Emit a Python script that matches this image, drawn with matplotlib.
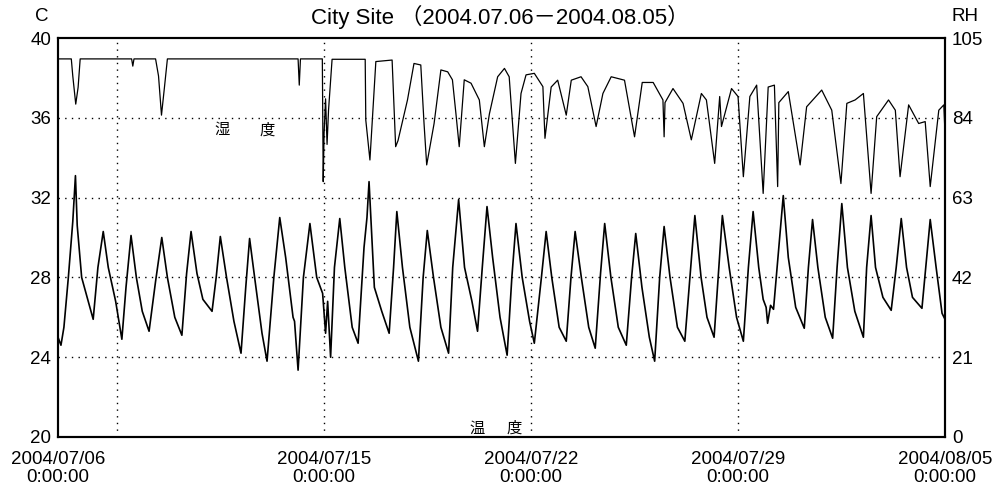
import pandas as pd
import matplotlib.pyplot as plt

# temperature (C): day offset from 2004/07/06 0:00, value
temp_days = [0.0, 0.1, 0.2, 0.35, 0.5, 0.59, 0.65, 0.8, 0.95, 1.19,
             1.35, 1.53, 1.7, 1.95, 2.16, 2.3, 2.47, 2.65, 2.85, 3.08,
             3.3, 3.51, 3.7, 3.95, 4.19, 4.35, 4.5, 4.7, 4.9, 5.21,
             5.35, 5.49, 5.7, 5.95, 6.19, 6.35, 6.48, 6.65, 6.9, 7.07,
             7.3, 7.5, 7.7, 7.95, 8.0, 8.12, 8.3, 8.52, 8.75, 8.95,
             9.05, 9.12, 9.22, 9.35, 9.53, 9.7, 9.95, 10.15, 10.35, 10.45,
             10.52, 10.58, 10.7, 10.95, 11.2, 11.35, 11.46, 11.65, 11.9, 12.19,
             12.35, 12.49, 12.7, 12.95, 13.21, 13.35, 13.55, 13.75, 14.0, 14.19,
             14.35, 14.51, 14.7, 14.95, 15.19, 15.35, 15.49, 15.7, 15.95, 16.11,
             16.35, 16.51, 16.7, 16.95, 17.19, 17.35, 17.49, 17.7, 17.95, 18.17,
             18.35, 18.49, 18.7, 18.95, 19.22, 19.4, 19.54, 19.75, 20.0, 20.18,
             20.35, 20.5, 20.7, 20.95, 21.2, 21.4, 21.54, 21.75, 21.95, 22.19,
             22.35, 22.47, 22.7, 22.95, 23.18, 23.35, 23.51, 23.7, 23.85, 23.95,
             24.0, 24.1, 24.2, 24.35, 24.53, 24.7, 24.95, 25.24, 25.38, 25.52,
             25.7, 25.95, 26.2, 26.35, 26.51, 26.7, 26.95, 27.24, 27.35, 27.5,
             27.65, 27.9, 28.18, 28.35, 28.52, 28.7, 28.9, 29.22, 29.35, 29.5,
             29.7, 29.9, 30.0]
temp_vals = [25.0, 24.6, 25.5, 28.0, 30.8, 33.1, 30.6, 28.0, 27.2, 25.9,
             28.5, 30.3, 28.5, 26.8, 24.9, 27.5, 30.1, 28.0, 26.3, 25.3,
             27.8, 30.0, 28.0, 26.0, 25.1, 28.2, 30.3, 28.2, 26.9, 26.3,
             28.0, 30.05, 28.0, 25.8, 24.2, 27.5, 29.95, 28.0, 25.2, 23.8,
             28.0, 31.0, 29.0, 26.0, 25.8, 23.35, 28.0, 30.7, 28.0, 27.2,
             25.2, 26.8, 24.0, 28.5, 30.95, 28.5, 25.5, 24.7, 29.5, 31.0,
             32.8, 31.0, 27.5, 26.3, 25.2, 28.5, 31.3, 28.5, 25.5, 23.8,
             28.0, 30.35, 28.0, 25.5, 24.2, 28.5, 31.9, 28.5, 26.8, 25.3,
             28.5, 31.55, 29.0, 26.0, 24.1, 28.0, 30.7, 28.0, 25.8, 24.7,
             28.0, 30.3, 28.0, 25.5, 24.8, 28.0, 30.3, 28.0, 25.5, 24.45,
             28.2, 30.7, 28.0, 25.5, 24.6, 28.0, 30.2, 27.5, 25.0, 23.8,
             28.0, 30.55, 28.0, 25.5, 24.8, 28.5, 31.1, 28.0, 26.0, 25.0,
             28.5, 31.1, 28.5, 26.0, 24.8, 28.5, 31.3, 28.5, 26.9, 26.5,
             25.7, 26.6, 26.4, 29.0, 32.1, 29.0, 26.5, 25.45, 28.5, 30.9,
             28.5, 26.0, 24.95, 28.5, 31.7, 28.5, 26.3, 25.0, 28.5, 31.1,
             28.5, 27.0, 26.35, 28.5, 30.95, 28.5, 27.0, 26.45, 28.5, 30.9,
             28.5, 26.2, 25.9]

# relative humidity (%)
rh_days = [0.0, 0.45, 0.5, 0.6, 0.68, 0.75, 2.49, 2.53, 2.57, 3.3,
           3.4, 3.5, 3.6, 3.7, 8.12, 8.16, 8.2, 8.94, 8.97, 9.0,
           9.05, 9.1, 9.15, 9.27, 10.39, 10.41, 10.55, 10.75, 11.3, 11.42,
           11.5, 11.82, 12.04, 12.27, 12.38, 12.47, 12.72, 12.95, 13.18, 13.34,
           13.46, 13.57, 13.74, 13.97, 14.25, 14.42, 14.59, 14.87, 15.1, 15.26,
           15.47, 15.66, 15.83, 16.11, 16.4, 16.47, 16.68, 16.9, 17.19, 17.36,
           17.69, 17.92, 18.2, 18.43, 18.71, 19.16, 19.5, 19.76, 20.13, 20.46,
           20.5, 20.53, 20.8, 21.14, 21.42, 21.76, 21.93, 22.21, 22.38, 22.44,
           22.78, 23.0, 23.18, 23.4, 23.63, 23.85, 24.02, 24.23, 24.34, 24.38,
           24.7, 25.1, 25.32, 25.83, 26.17, 26.48, 26.68, 26.96, 27.24, 27.5,
           27.69, 28.09, 28.32, 28.48, 28.77, 29.11, 29.33, 29.5, 29.79, 29.96,
           30.0]
rh_vals = [99.5, 99.5, 95.0, 87.6, 92.0, 99.5, 99.5, 97.6, 99.5, 99.5,
           95.0, 84.7, 92.0, 99.5, 99.5, 92.6, 99.5, 99.5, 67.2, 80.0,
           89.0, 77.0, 86.0, 99.4, 99.4, 83.4, 72.9, 98.8, 99.2, 76.4,
           78.0, 88.7, 98.3, 97.9, 82.5, 71.6, 82.5, 96.6, 96.1, 94.0,
           85.0, 76.4, 94.0, 93.1, 88.7, 76.4, 85.0, 94.8, 97.0, 94.8,
           72.0, 90.4, 95.3, 95.7, 92.2, 78.6, 92.1, 93.9, 84.7, 93.9,
           94.8, 92.2, 81.7, 90.4, 94.8, 93.9, 79.0, 93.3, 93.3, 88.7,
           79.0, 88.0, 91.7, 87.8, 78.2, 90.4, 88.7, 72.0, 89.6, 81.7,
           91.7, 89.6, 68.5, 89.6, 92.6, 64.1, 92.1, 92.6, 65.9, 88.0,
           90.9, 71.6, 86.9, 91.3, 86.0, 66.7, 87.8, 88.7, 90.4, 64.1,
           84.3, 88.7, 86.0, 68.5, 87.4, 82.5, 83.0, 65.9, 86.0, 87.4,
           80.0]

start = pd.Timestamp('2004-07-06')
end = pd.Timestamp('2004-08-05')
tick_dates = ['2004-07-06', '2004-07-15', '2004-07-22', '2004-07-29', '2004-08-05']
vgrid_dates = ['2004-07-08', '2004-07-15', '2004-07-22', '2004-07-29']
temp_ticks = [20, 24, 28, 32, 36, 40]
rh_ticks = [0, 21, 42, 63, 84, 105]

plt.rcParams['font.family'] = ['Liberation Sans', 'Noto Sans CJK JP', 'DejaVu Sans']

t_time = start + pd.to_timedelta(temp_days, unit='D')
rh_time = start + pd.to_timedelta(rh_days, unit='D')

fig = plt.figure(figsize=(10, 4.91), dpi=100)
ax = fig.add_axes([0.058, 0.110, 0.887, 0.8126])
ax2 = ax.twinx()

dot = (0, (1, 3.8))
for v in temp_ticks[1:-1]:
    ax.axhline(v, color='black', lw=1.0, ls=dot, zorder=1)
for d in vgrid_dates:
    ax.axvline(pd.Timestamp(d), color='black', lw=1.0, ls=dot, zorder=1)

ax.plot(t_time, temp_vals, color='black', lw=1.2, zorder=3)
ax2.plot(rh_time, rh_vals, color='black', lw=0.9, zorder=3)

ax.set_xlim(start, end)
ax.set_ylim(20, 40)
ax2.set_ylim(0, 105)
ax.set_yticks(temp_ticks)
ax2.set_yticks(rh_ticks)
ax.set_xticks([pd.Timestamp(d) for d in tick_dates])
ax.set_xticklabels([pd.Timestamp(d).strftime('%Y/%m/%d') + '\n0:00:00' for d in tick_dates],
                   linespacing=1.05)

ax.tick_params(axis='y', length=0, labelsize=13.5, pad=5)
ax.tick_params(axis='x', length=0, labelsize=13.5, pad=10)
ax2.tick_params(axis='y', length=0, labelsize=13.5, pad=5)
for sp in list(ax.spines.values()) + list(ax2.spines.values()):
    sp.set_linewidth(1.5)
    sp.set_color('black')

fig.text(0.5, 0.966, 'City Site （2004.07.06－2004.08.05）', ha='center', va='center', fontsize=16)
fig.text(0.042, 0.966, 'C', ha='center', va='center', fontsize=13.5)
fig.text(0.965, 0.966, 'RH', ha='center', va='center', fontsize=13.5)

cjk = ['Noto Sans CJK JP']
ax.text(pd.Timestamp('2004-07-11 13:00'), 35.4, '湿', family=cjk, fontsize=11, ha='center', va='center')
ax.text(pd.Timestamp('2004-07-13 02:00'), 35.4, '度', family=cjk, fontsize=11, ha='center', va='center')
ax.text(pd.Timestamp('2004-07-20 04:00'), 20.45, '温', family=cjk, fontsize=11, ha='center', va='center')
ax.text(pd.Timestamp('2004-07-21 10:00'), 20.45, '度', family=cjk, fontsize=11, ha='center', va='center')

fig.savefig('out.png', dpi=100)
